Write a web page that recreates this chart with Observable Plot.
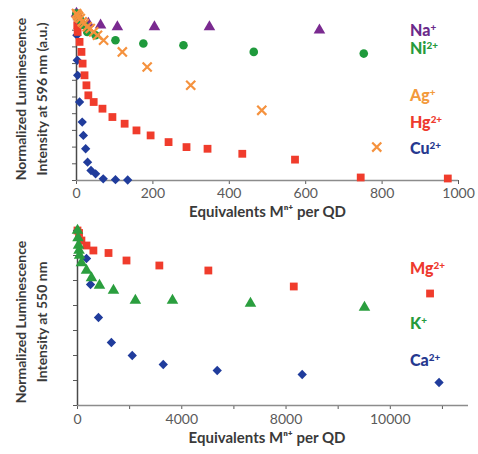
<!DOCTYPE html>
<html>
<head>
<meta charset="utf-8">
<script src="https://cdn.jsdelivr.net/npm/d3@7"></script>
<script src="https://cdn.jsdelivr.net/npm/@observablehq/plot@0.6"></script>
<style>
  html, body { margin: 0; padding: 0; background: #fff; }
  #wrap { position: relative; width: 478px; height: 454px; overflow: hidden; }
  #wrap svg { display: block; }
  .lg { position: absolute; font-family: Lato, "Open Sans", sans-serif; font-weight: 900; font-size: 16px; line-height: 18px; white-space: nowrap; }
  .lg sup { font-size: 0.62em; vertical-align: 0; position: relative; top: -0.55em; }
</style>
</head>
<body>
<div id="wrap"></div>
<script>
// ---------- Top panel data (Equivalents per QD, normalized intensity at 596 nm) ----------
const naX = [0, 5, 12, 31, 63, 107, 204, 348, 636];
const naY = [1.0, 0.98, 0.96, 0.94, 0.93, 0.92, 0.92, 0.92, 0.90];
const niX = [0, 10, 20, 28, 50, 102, 175, 280, 464, 752];
const niY = [1.0, 0.96, 0.93, 0.89, 0.87, 0.84, 0.82, 0.81, 0.77, 0.76];
const agX = [0, 3, 6, 10, 15, 20, 28, 36, 45, 55, 71, 120, 185, 299, 485, 786];
const agY = [1.0, 0.99, 0.98, 0.97, 0.95, 0.94, 0.92, 0.91, 0.89, 0.87, 0.84, 0.77, 0.68, 0.57, 0.42, 0.20];
const hgX = [0, 2, 3, 8, 13, 16, 21, 26, 31, 45, 68, 94, 126, 157, 194, 241, 288, 343, 434, 572, 744, 972];
const hgY = [1.0, 0.93, 0.89, 0.83, 0.77, 0.70, 0.63, 0.57, 0.51, 0.47, 0.43, 0.38, 0.34, 0.30, 0.27, 0.23, 0.20, 0.19, 0.16, 0.125, 0.018, 0.012];
const cuX = [0, 1, 2, 3, 8, 15, 18, 24, 29, 38, 50, 70, 102, 134];
const cuY = [1.0, 0.87, 0.72, 0.63, 0.47, 0.35, 0.27, 0.19, 0.11, 0.06, 0.04, 0.01, 0.005, 0.003];

// ---------- Bottom panel data (normalized intensity at 550 nm) ----------
const mgX = [0, 60, 150, 345, 610, 1190, 1880, 3140, 5020, 8297, 13525];
const mgY = [1.0, 0.99, 0.96, 0.94, 0.92, 0.91, 0.88, 0.86, 0.84, 0.776, 0.748];
const kX = [0, 20, 40, 60, 80, 150, 345, 536, 843, 1380, 2220, 3644, 6636, 11009];
const kY = [1.0, 0.97, 0.94, 0.92, 0.90, 0.87, 0.84, 0.81, 0.78, 0.76, 0.72, 0.72, 0.708, 0.692];
const caX = [0, 345, 500, 805, 1300, 2100, 3290, 5360, 8620, 13870];
const caY = [1.0, 0.888, 0.784, 0.652, 0.552, 0.50, 0.464, 0.44, 0.424, 0.392];

// ---------- Tick labels ----------
const topXTicks = [0, 200, 400, 600, 800, 1000];
const topXTickLabels = ["0", "200", "400", "600", "800", "1000"];
const bottomXTickMarks = [0, 2000, 4000, 6000, 8000, 10000, 12000, 14000];
const bottomXTickValues = [0, 4000, 8000, 12000];
const bottomXTickLabels = ["0", "4000", "8000", "10000"];
const topYTicks = d3.range(0, 11).map(i => i / 10);
const bottomYTicks = d3.range(3, 11).map(i => i / 10);

const xTitle = "Equivalents M\u207F\u207A per QD";
const topYTitle = "Normalized Luminescence\nIntensity at 596 nm (a.u.)";
const bottomYTitle = "Normalized Luminescence\nIntensity at 550 nm";

const colors = {
  na: "#7a2a90", ni: "#1f9a3c", ag: "#f5923e", hg: "#f03c2c", cu: "#203c9c",
  mg: "#f03c2c", k: "#2a9e3e", ca: "#203c9c"
};

const zip = (xs, ys) => xs.map((x, i) => ({x, y: ys[i]}));

const fontFamily = "Lato, 'Open Sans', sans-serif";

const topChart = Plot.plot({
  width: 478, height: 220,
  marginLeft: 76, marginRight: 20, marginTop: 13, marginBottom: 40,
  style: {fontFamily, fontSize: "14px", color: "#5a5a5a", background: "white"},
  x: {domain: [0, 1000], ticks: topXTicks, tickSize: 4, tickPadding: 4, label: null,
      tickFormat: d => { const i = topXTicks.indexOf(d); return i >= 0 ? topXTickLabels[i] : ""; }},
  y: {domain: [0, 1], ticks: topYTicks, tickFormat: () => "", tickSize: 4, label: null},
  marks: [
    Plot.ruleY([0], {stroke: "#8c8c8c", strokeWidth: 1.5}),
    Plot.ruleX([0], {stroke: "#4a4a4a", strokeWidth: 1.5}),
    Plot.dot(zip(cuX, cuY), {x: "x", y: "y", symbol: "diamond2", r: 4.2, fill: colors.cu, stroke: null}),
    Plot.dot(zip(hgX, hgY), {x: "x", y: "y", symbol: "square", r: 4.4, fill: colors.hg, stroke: null}),
    Plot.dot(zip(naX, naY), {x: "x", y: "y", symbol: "triangle", r: 4.3, fill: colors.na, stroke: null}),
    Plot.dot(zip(niX, niY), {x: "x", y: "y", symbol: "circle", r: 4.3, fill: colors.ni, stroke: null}),
    Plot.dot(zip(agX, agY), {x: "x", y: "y", symbol: "times", r: 4.2, stroke: colors.ag, strokeWidth: 2.2, fill: null}),
    Plot.text([xTitle], {frameAnchor: "bottom", dy: 36, text: d => d, fontWeight: "bold", fontSize: 15, fill: "#3a3a3a"}),
    Plot.text([topYTitle], {frameAnchor: "left", rotate: -90, dx: -47, dy: 2, text: d => d, textAnchor: "middle", lineHeight: 1.5, fontWeight: "bold", fontSize: 14, fill: "#3a3a3a"})
  ]
});

const bottomChart = Plot.plot({
  width: 478, height: 234,
  marginLeft: 77, marginRight: 10, marginTop: 10, marginBottom: 49,
  style: {fontFamily, fontSize: "14px", color: "#5a5a5a", background: "white"},
  x: {domain: [0, 15000], ticks: bottomXTickMarks, tickSize: 4, tickPadding: 5, label: null,
      tickFormat: d => { const i = bottomXTickValues.indexOf(d); return i >= 0 ? bottomXTickLabels[i] : ""; }},
  y: {domain: [0.3, 1.0], ticks: bottomYTicks, tickFormat: () => "", tickSize: 4, label: null},
  marks: [
    Plot.ruleY([0.3], {stroke: "#8c8c8c", strokeWidth: 1.5}),
    Plot.ruleX([0], {stroke: "#4a4a4a", strokeWidth: 1.5}),
    Plot.dot(zip(caX, caY), {x: "x", y: "y", symbol: "diamond2", r: 4.2, fill: colors.ca, stroke: null}),
    Plot.dot(zip(mgX, mgY), {x: "x", y: "y", symbol: "square", r: 4.4, fill: colors.mg, stroke: null}),
    Plot.dot(zip(kX, kY), {x: "x", y: "y", symbol: "triangle", r: 4.3, fill: colors.k, stroke: null}),
    Plot.text([xTitle], {frameAnchor: "bottom", dy: 37, dx: -6, text: d => d, fontWeight: "bold", fontSize: 15, fill: "#3a3a3a"}),
    Plot.text([bottomYTitle], {frameAnchor: "left", rotate: -90, dx: -48, dy: 4, text: d => d, textAnchor: "middle", lineHeight: 1.5, fontWeight: "bold", fontSize: 14, fill: "#3a3a3a"})
  ]
});

const wrap = document.getElementById("wrap");
wrap.appendChild(topChart);
wrap.appendChild(bottomChart);

// Legend labels
const legendNames = [
  {html: "Na<sup>+</sup>", color: "#6b2a8a", left: 410, top: 21},
  {html: "Ni<sup>2+</sup>", color: "#269a3c", left: 410, top: 39},
  {html: "Ag<sup>+</sup>", color: "#f39a3c", left: 410, top: 86},
  {html: "Hg<sup>2+</sup>", color: "#ee3a2e", left: 410, top: 113},
  {html: "Cu<sup>2+</sup>", color: "#26388f", left: 410, top: 139},
  {html: "Mg<sup>2+</sup>", color: "#ee3a2e", left: 410, top: 259},
  {html: "K<sup>+</sup>", color: "#269a3c", left: 410, top: 314},
  {html: "Ca<sup>2+</sup>", color: "#26388f", left: 410, top: 351}
];
for (const l of legendNames) {
  const d = document.createElement("div");
  d.className = "lg";
  d.innerHTML = l.html;
  d.style.color = l.color;
  d.style.left = l.left + "px";
  d.style.top = l.top + "px";
  wrap.appendChild(d);
}
</script>
</body>
</html>
